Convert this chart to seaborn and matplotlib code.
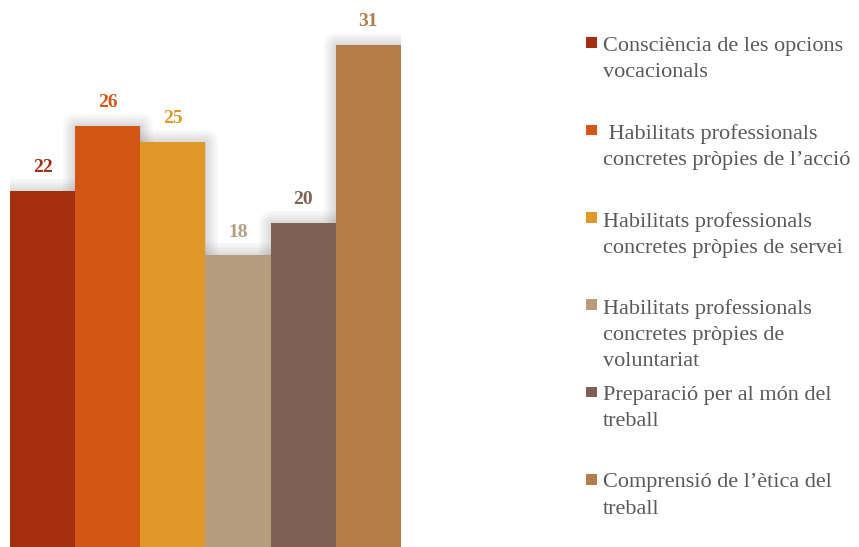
import matplotlib
matplotlib.use("Agg")
import matplotlib.pyplot as plt
import matplotlib.patheffects as pe
from matplotlib.patches import Rectangle
import seaborn as sns

# Data
categories = [
    "Consciència de les opcions\nvocacionals",
    " Habilitats professionals\nconcretes pròpies de l\u2019acció",
    "Habilitats professionals\nconcretes pròpies de servei",
    "Habilitats professionals\nconcretes pròpies de\nvoluntariat",
    "Preparació per al món del\ntreball",
    "Comprensió de l\u2019ètica del\ntreball",
]
values = [22, 26, 25, 18, 20, 31]
colors = ["#A32E10", "#D45617", "#E09826", "#B49D7D", "#7F6053", "#B37C48"]

sns.set_theme(style="white")
plt.rcParams["font.family"] = ["Liberation Serif", "DejaVu Serif"]

W, H, DPI = 859, 547, 100
fig = plt.figure(figsize=(W / DPI, H / DPI), dpi=DPI)
ax = fig.add_axes([10 / W, 0, (401 - 10) / W, 1])

# Soft shadow layer behind the bars
sns.barplot(x=categories, y=values, color="#888888", width=1.0, saturation=1,
            linewidth=0, ax=ax, zorder=1)
halo = [pe.Stroke(linewidth=lw, foreground="#6a6a6a", alpha=0.045, joinstyle="round")
        for lw in (18, 14, 11, 8, 5, 2)]
for p in ax.patches:
    p.set_path_effects(halo)

sns.barplot(x=categories, y=values, hue=categories, palette=colors, width=1.0,
            saturation=1, linewidth=0, legend=False, ax=ax, zorder=2)

for cont in ax.containers[1:]:
    col = cont[0].get_facecolor()
    ax.bar_label(cont, labels=[f"{v:g}" for v in cont.datavalues], padding=10.5,
                 fontsize=14, fontweight="bold", color=col)

ax.set_xlim(-0.5, 5.5)
ax.set_ylim(0, H / 16.2)
ax.set_axis_off()

# Legend on the right, one entry per category (baselines in pixels from top)
base0 = 53
step = 87.3
for i, (lab, col) in enumerate(zip(categories, colors)):
    b = base0 + i * step
    fig.add_artist(Rectangle((586 / W, 1 - (b - 5) / H), 11 / W, 10.5 / H,
                             transform=fig.transFigure, facecolor=col,
                             edgecolor="none"))
    fig.text(603 / W, 1 - (b - 16) / H, lab, ha="left", va="top", fontsize=16,
             color="#595959", linespacing=1.5)

fig.savefig("out.png", dpi=DPI)
